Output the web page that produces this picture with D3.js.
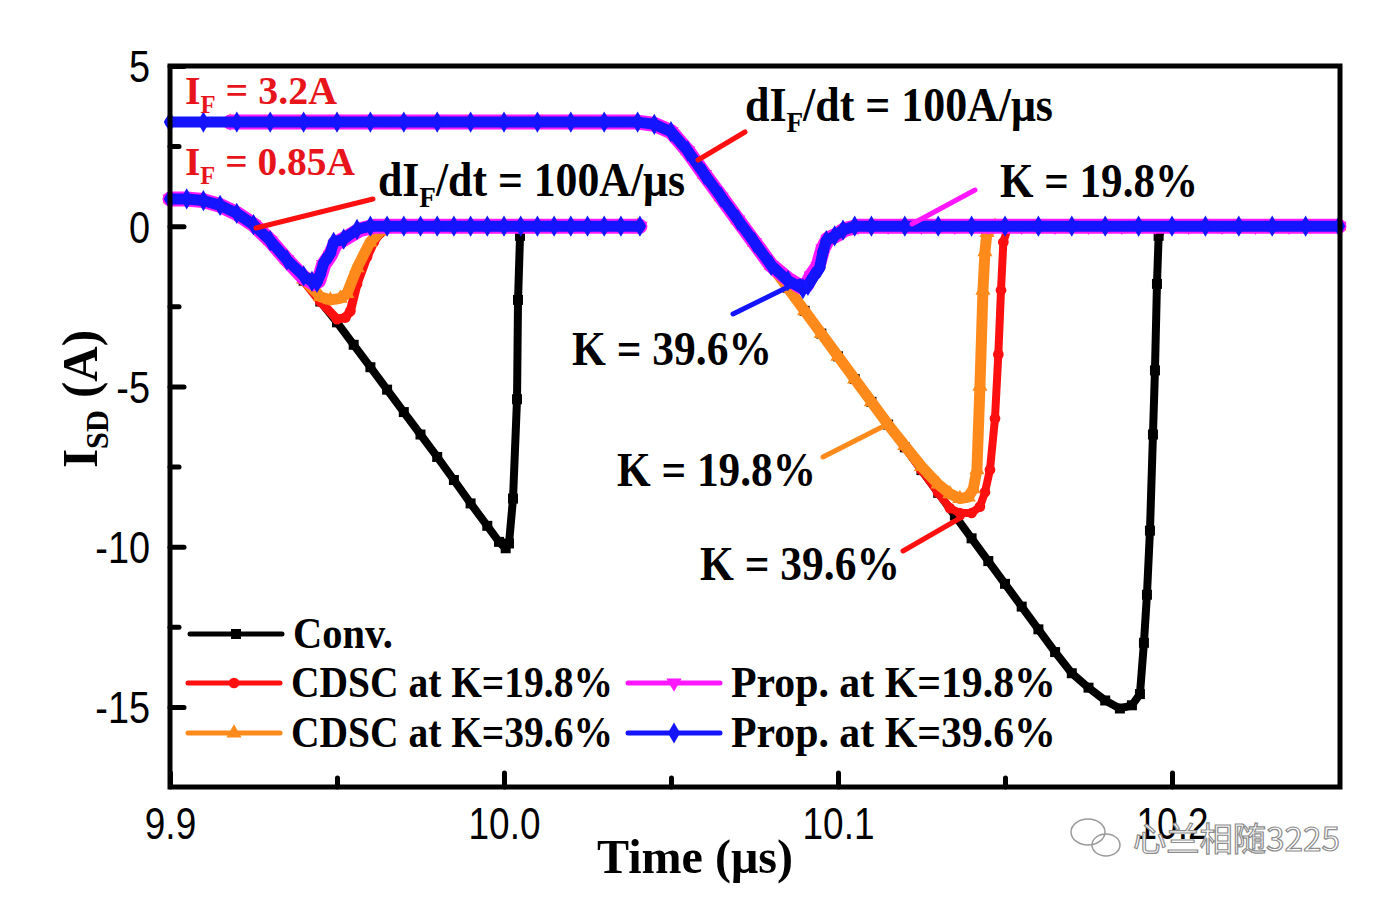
<!DOCTYPE html>
<html><head><meta charset="utf-8">
<script src="https://cdn.jsdelivr.net/npm/d3@7"></script>
<style>body{margin:0;background:#fff}svg{display:block}</style>
</head><body><svg id="c" width="1384" height="900"></svg>
<script>
// ---------- data (time in µs, current in A) ----------
const xMajorTicks = [9.9, 10.0, 10.1, 10.2];
const xTickLabels = ["9.9", "10.0", "10.1", "10.2"];
const xMinorTicks = [9.95, 10.05, 10.15];
const yMajorTicks = [5, 0, -5, -10, -15];
const yTickLabels = ["5", "0", "-5", "-10", "-15"];
const yMinorTicks = [2.5, -2.5, -7.5, -12.5];

// I_F = 0.85 A case
const conv1 = [[9.900,0.85],[9.905,0.85],[9.910,0.80],[9.915,0.65],[9.920,0.40],[9.925,0.05],[9.930,-0.45],[9.935,-1.05],[9.940,-1.70],[9.945,-2.35],[9.950,-3.00],[9.955,-3.70],[9.960,-4.40],[9.965,-5.10],[9.970,-5.80],[9.975,-6.50],[9.980,-7.20],[9.985,-7.92],[9.990,-8.65],[9.995,-9.35],[9.9985,-9.85],[10.0005,-10.05],[10.0015,-9.90],[10.0027,-8.50],[10.0039,-5.40],[10.0042,-2.30],[10.0048,-0.30],[10.0060,0],[10.040,0]];
const cdsc198_1 = [[9.900,0.85],[9.905,0.85],[9.910,0.80],[9.915,0.65],[9.920,0.40],[9.925,0.05],[9.930,-0.45],[9.935,-1.05],[9.940,-1.70],[9.945,-2.35],[9.950,-2.90],[9.9525,-2.85],[9.954,-2.65],[9.956,-1.80],[9.959,-0.95],[9.961,-0.50],[9.963,-0.20],[9.9645,0],[9.980,0],[10.000,0],[10.020,0],[10.040,0]];
const cdsc396_1 = [[9.900,0.85],[9.905,0.85],[9.910,0.80],[9.915,0.65],[9.920,0.40],[9.925,0.05],[9.930,-0.45],[9.935,-1.05],[9.940,-1.65],[9.945,-2.20],[9.948,-2.30],[9.951,-2.25],[9.953,-2.10],[9.956,-1.30],[9.9599,-0.50],[9.963,-0.15],[9.9645,0],[9.980,0],[10.000,0],[10.020,0],[10.040,0]];
const prop198_1 = [[9.900,0.85],[9.905,0.85],[9.910,0.80],[9.915,0.65],[9.920,0.40],[9.925,0.05],[9.930,-0.45],[9.935,-1.05],[9.940,-1.60],[9.943,-1.78],[9.9445,-1.70],[9.946,-1.20],[9.948,-0.90],[9.9495,-0.55],[9.953,-0.35],[9.957,-0.10],[9.961,0],[9.970,0],[9.980,0],[9.990,0],[10.000,0],[10.010,0],[10.020,0],[10.030,0],[10.0407,0]];
const prop396_1 = [[9.900,0.85],[9.905,0.85],[9.910,0.80],[9.915,0.65],[9.920,0.40],[9.925,0.05],[9.930,-0.45],[9.935,-1.05],[9.940,-1.55],[9.9425,-1.72],[9.944,-1.75],[9.945,-1.50],[9.946,-1.15],[9.948,-0.85],[9.949,-0.50],[9.952,-0.40],[9.956,-0.10],[9.960,0],[9.965,0],[9.970,0],[9.975,0],[9.980,0],[9.985,0],[9.990,0],[9.995,0],[10.000,0],[10.005,0],[10.010,0],[10.015,0],[10.020,0],[10.025,0],[10.030,0],[10.035,0],[10.0407,0]];

// I_F = 3.2 A case
const conv2 = [[9.918,3.25],[9.950,3.25],[10.000,3.25],[10.040,3.25],[10.045,3.18],[10.050,2.95],[10.055,2.35],[10.060,1.62],[10.065,0.91],[10.070,0.20],[10.075,-0.51],[10.080,-1.22],[10.085,-1.93],[10.090,-2.64],[10.095,-3.35],[10.100,-4.06],[10.105,-4.77],[10.110,-5.48],[10.115,-6.19],[10.120,-6.90],[10.125,-7.61],[10.130,-8.32],[10.135,-9.03],[10.140,-9.74],[10.145,-10.45],[10.150,-11.16],[10.155,-11.87],[10.160,-12.58],[10.165,-13.29],[10.170,-13.95],[10.175,-14.40],[10.180,-14.80],[10.1844,-15.05],[10.188,-14.95],[10.1904,-14.60],[10.1916,-13.00],[10.1925,-11.50],[10.1934,-9.50],[10.1943,-6.50],[10.1949,-4.50],[10.1955,-1.80],[10.1960,-0.30],[10.1975,0],[10.250,0]];
const cdsc198_2 = [[9.918,3.25],[9.950,3.25],[10.000,3.25],[10.040,3.25],[10.045,3.18],[10.050,2.95],[10.055,2.35],[10.060,1.62],[10.065,0.91],[10.070,0.20],[10.075,-0.51],[10.080,-1.22],[10.085,-1.93],[10.090,-2.64],[10.095,-3.35],[10.100,-4.06],[10.105,-4.77],[10.110,-5.48],[10.115,-6.19],[10.120,-6.90],[10.125,-7.61],[10.130,-8.32],[10.1335,-8.80],[10.1365,-8.95],[10.140,-8.95],[10.1425,-8.75],[10.144,-8.30],[10.1455,-7.60],[10.147,-6.00],[10.148,-4.00],[10.1488,-2.00],[10.1495,-0.50],[10.151,0],[10.170,0],[10.190,0],[10.210,0],[10.230,0],[10.250,0]];
const cdsc396_2 = [[9.918,3.25],[9.950,3.25],[10.000,3.25],[10.040,3.25],[10.045,3.18],[10.050,2.95],[10.055,2.35],[10.060,1.62],[10.065,0.91],[10.070,0.20],[10.075,-0.51],[10.080,-1.22],[10.085,-1.93],[10.090,-2.64],[10.095,-3.35],[10.100,-4.06],[10.105,-4.77],[10.110,-5.48],[10.115,-6.19],[10.120,-6.85],[10.125,-7.50],[10.130,-8.05],[10.1335,-8.35],[10.1365,-8.50],[10.139,-8.45],[10.1405,-8.20],[10.1416,-7.60],[10.1425,-5.00],[10.1434,-2.00],[10.1440,-0.80],[10.1446,-0.20],[10.147,0],[10.170,0],[10.190,0],[10.210,0],[10.230,0],[10.250,0]];
const prop198_2 = [[9.918,3.25],[9.930,3.25],[9.940,3.25],[9.950,3.25],[9.960,3.25],[9.970,3.25],[9.980,3.25],[9.990,3.25],[10.000,3.25],[10.010,3.25],[10.020,3.25],[10.030,3.25],[10.040,3.25],[10.045,3.18],[10.050,2.95],[10.055,2.35],[10.060,1.62],[10.065,0.91],[10.070,0.20],[10.075,-0.51],[10.080,-1.22],[10.085,-1.65],[10.089,-1.90],[10.0905,-1.85],[10.092,-1.55],[10.094,-1.25],[10.0955,-0.70],[10.097,-0.40],[10.100,-0.25],[10.102,-0.10],[10.106,0],[10.115,0],[10.125,0],[10.135,0],[10.145,0],[10.155,0],[10.165,0],[10.175,0],[10.185,0],[10.195,0],[10.205,0],[10.215,0],[10.225,0],[10.235,0],[10.250,0]];
const prop396_2 = [[9.900,3.25],[9.910,3.25],[9.920,3.25],[9.930,3.25],[9.940,3.25],[9.950,3.25],[9.960,3.25],[9.970,3.25],[9.980,3.25],[9.990,3.25],[10.000,3.25],[10.010,3.25],[10.020,3.25],[10.030,3.25],[10.040,3.25],[10.045,3.18],[10.050,2.95],[10.055,2.35],[10.060,1.62],[10.065,0.91],[10.070,0.20],[10.075,-0.51],[10.080,-1.22],[10.085,-1.70],[10.0895,-1.95],[10.091,-1.85],[10.0925,-1.60],[10.0945,-1.30],[10.0955,-0.80],[10.0965,-0.45],[10.099,-0.30],[10.1015,-0.12],[10.105,0],[10.110,0],[10.120,0],[10.130,0],[10.140,0],[10.150,0],[10.160,0],[10.170,0],[10.180,0],[10.190,0],[10.200,0],[10.210,0],[10.220,0],[10.230,0],[10.240,0],[10.250,0]];

const seriesNames = ["Conv.", "CDSC at K=19.8%", "CDSC at K=39.6%", "Prop. at K=19.8%", "Prop. at K=39.6%"];
const seriesColors = ["#000000", "#ff1010", "#ff8a1c", "#ff18ff", "#1414ff"];

// ---------- layout ----------
const svg = d3.select("#c");
const L = 170, R = 1340, T = 66, B = 787;
const x = d3.scaleLinear().domain([9.9, 10.2503]).range([L, R]);
const y = d3.scaleLinear().domain([-17.5, 5]).range([B, T]);
const SERIF = "'Liberation Serif','Times New Roman',serif";
const SANS = "'Liberation Sans',Arial,sans-serif";

const line = d3.line().x(d => x(d[0])).y(d => y(d[1]));
const sym = {
  square: d3.symbol().type(d3.symbolSquare).size(100),
  circle: d3.symbol().type(d3.symbolCircle).size(90),
  tri: d3.symbol().type(d3.symbolTriangle).size(100),
  diamond: d3.symbol().type(d3.symbolDiamond).size(130)
};

function drawSeries(data, color, width, shape, rot) {
  const g = svg.append("g");
  g.append("path").datum(data).attr("d", line).attr("fill", "none")
    .attr("stroke", color).attr("stroke-width", width)
    .attr("stroke-linejoin", "round").attr("stroke-linecap", "round");
  g.selectAll("path.m").data(data).join("path").attr("class", "m")
    .attr("d", sym[shape]())
    .attr("transform", d => `translate(${x(d[0])},${y(d[1])}) rotate(${rot || 0})`)
    .attr("fill", color);
}

// draw order: black, red, orange, magenta, blue
drawSeries(conv1, seriesColors[0], 8, "square");
drawSeries(conv2, seriesColors[0], 8, "square");
drawSeries(cdsc198_1, seriesColors[1], 9, "circle");
drawSeries(cdsc198_2, seriesColors[1], 8, "circle");
drawSeries(cdsc396_1, seriesColors[2], 11, "tri");
drawSeries(cdsc396_2, seriesColors[2], 11, "tri");
drawSeries(prop198_1, seriesColors[3], 15, "tri", 180);
drawSeries(prop198_2, seriesColors[3], 15, "tri", 180);
drawSeries(prop396_1, seriesColors[4], 11, "diamond");
drawSeries(prop396_2, seriesColors[4], 11, "diamond");

// ---------- axes ----------
const yAxisMajor = d3.axisLeft(y).tickValues(yMajorTicks).tickSize(-14).tickPadding(20)
  .tickFormat((d, i) => yTickLabels[i]);
const gy = svg.append("g").attr("transform", `translate(${L},0)`).call(yAxisMajor);
const yAxisMinor = d3.axisLeft(y).tickValues(yMinorTicks).tickSize(-9).tickFormat("");
svg.append("g").attr("transform", `translate(${L},0)`).call(yAxisMinor);

const xAxisMajor = d3.axisBottom(x).tickValues(xMajorTicks).tickSize(-14).tickPadding(30)
  .tickFormat((d, i) => xTickLabels[i]);
const gx = svg.append("g").attr("transform", `translate(0,${B})`).call(xAxisMajor);
const xAxisMinor = d3.axisBottom(x).tickValues(xMinorTicks).tickSize(-9).tickFormat("");
svg.append("g").attr("transform", `translate(0,${B})`).call(xAxisMinor);

svg.selectAll(".domain").remove();
svg.selectAll(".tick line").attr("stroke", "#000").attr("stroke-width", 5).attr("stroke-linecap", "round");
gy.selectAll(".tick text").attr("font-family", SANS).attr("font-size", 44).attr("fill", "#000").attr("dy", "0.36em");
gx.selectAll(".tick text").attr("font-family", SANS).attr("font-size", 44).attr("fill", "#000").attr("dy", "0.5em");
function condense(sel, f) {
  sel.each(function () {
    const w = this.getComputedTextLength();
    d3.select(this).attr("textLength", w * f).attr("lengthAdjust", "spacingAndGlyphs");
  });
}
condense(gy.selectAll(".tick text"), 0.86);
condense(gx.selectAll(".tick text"), 0.84);

// frame
svg.append("rect").attr("x", L).attr("y", T).attr("width", R - L).attr("height", B - T)
  .attr("fill", "none").attr("stroke", "#000").attr("stroke-width", 5);

// ---------- text helpers (pieces laid out as separate text elements) ----------
function rich(xp, yp, parts, size, color, width, rotate) {
  const outer = svg.append("g");
  const g = outer.append("g");
  let cx = 0;
  parts.forEach(p => {
    const isSub = typeof p === "object";
    const s = isSub ? p.sub : p;
    const t = g.append("text").attr("x", cx).attr("y", isSub ? size * 0.22 : 0)
      .attr("font-family", SERIF).attr("font-weight", "bold")
      .attr("font-size", isSub ? size * 0.62 : size).attr("fill", color)
      .attr("xml:space", "preserve").style("white-space", "pre").text(s);
    cx += t.node().getComputedTextLength();
  });
  const f = width ? width / cx : 1;
  outer.attr("transform", `translate(${xp},${yp})` + (rotate ? ` rotate(${rotate})` : ""));
  g.attr("transform", `scale(${f},1.06)`);
  return outer;
}
function leader(x1, y1, x2, y2, color) {
  svg.append("line").attr("x1", x1).attr("y1", y1).attr("x2", x2).attr("y2", y2)
    .attr("stroke", color).attr("stroke-width", 5).attr("stroke-linecap", "round");
}

// annotations
const RED_TXT = "#e8141c";
rich(185, 104, ["I", {sub: "F"}, " = 3.2A"], 37, RED_TXT, 152);
rich(185, 175, ["I", {sub: "F"}, " = 0.85A"], 37, RED_TXT, 170);
rich(378, 196, ["dI", {sub: "F"}, "/dt = 100A/μs"], 45, "#000", 307);
leader(373, 199, 256, 228, "#ff1010");
rich(745, 121, ["dI", {sub: "F"}, "/dt = 100A/μs"], 45, "#000", 308);
leader(745, 132, 698, 160, "#ff1010");
rich(1000, 197, ["K = 19.8%"], 46, "#000", 198);
leader(975, 190, 912, 224, "#ff18ff");
rich(572, 365, ["K = 39.6%"], 46, "#000", 200);
leader(733, 314, 800, 281, "#1414ff");
rich(617, 486, ["K = 19.8%"], 46, "#000", 199);
leader(823, 457, 882, 427, "#ff8a1c");
rich(700, 580, ["K = 39.6%"], 46, "#000", 200);
leader(903, 551, 962, 517, "#ff1010");

// ---------- legend ----------
const legendItems = [
  {i: 0, lx: 190, ly: 634, tw: 100, shape: "square"},
  {i: 1, lx: 188, ly: 683, tw: 322, shape: "circle"},
  {i: 3, lx: 628, ly: 683, tw: 325, shape: "tri", rot: 180},
  {i: 2, lx: 188, ly: 733, tw: 322, shape: "tri"},
  {i: 4, lx: 628, ly: 733, tw: 325, shape: "diamond"}
];
legendItems.forEach(it => {
  const c = seriesColors[it.i];
  svg.append("line").attr("x1", it.lx).attr("x2", it.lx + 92).attr("y1", it.ly).attr("y2", it.ly)
    .attr("stroke", c).attr("stroke-width", 5).attr("stroke-linecap", "round");
  svg.append("path").attr("d", sym[it.shape]())
    .attr("transform", `translate(${it.lx + 46},${it.ly}) rotate(${it.rot || 0})`).attr("fill", c);
  rich(it.lx + 103, it.ly + 14, [seriesNames[it.i]], 42, "#000", it.tw);
});

// ---------- axis titles ----------
rich(597, 873, ["Time (μs)"], 46, "#000", 196);
rich(97, 468, ["I", {sub: "SD"}, " (A)"], 48, "#000", 138, -90);

// ---------- watermark ----------
const wm = svg.append("g").attr("fill", "none").attr("stroke", "#9a9a9a").attr("stroke-width", 1.5);
wm.append("ellipse").attr("cx", 1088).attr("cy", 832).attr("rx", 17).attr("ry", 13);
wm.append("ellipse").attr("cx", 1106).attr("cy", 845).attr("rx", 14).attr("ry", 11);
svg.append("text").attr("x", 1133).attr("y", 851)
  .attr("font-family", "'Noto Sans CJK SC',sans-serif").attr("font-size", 33)
  .attr("fill", "#ffffff").attr("stroke", "#8c8c8c").attr("stroke-width", 1.2)
  .attr("textLength", 207).attr("lengthAdjust", "spacingAndGlyphs")
  .text("心兰相随3225");
</script></body></html>
